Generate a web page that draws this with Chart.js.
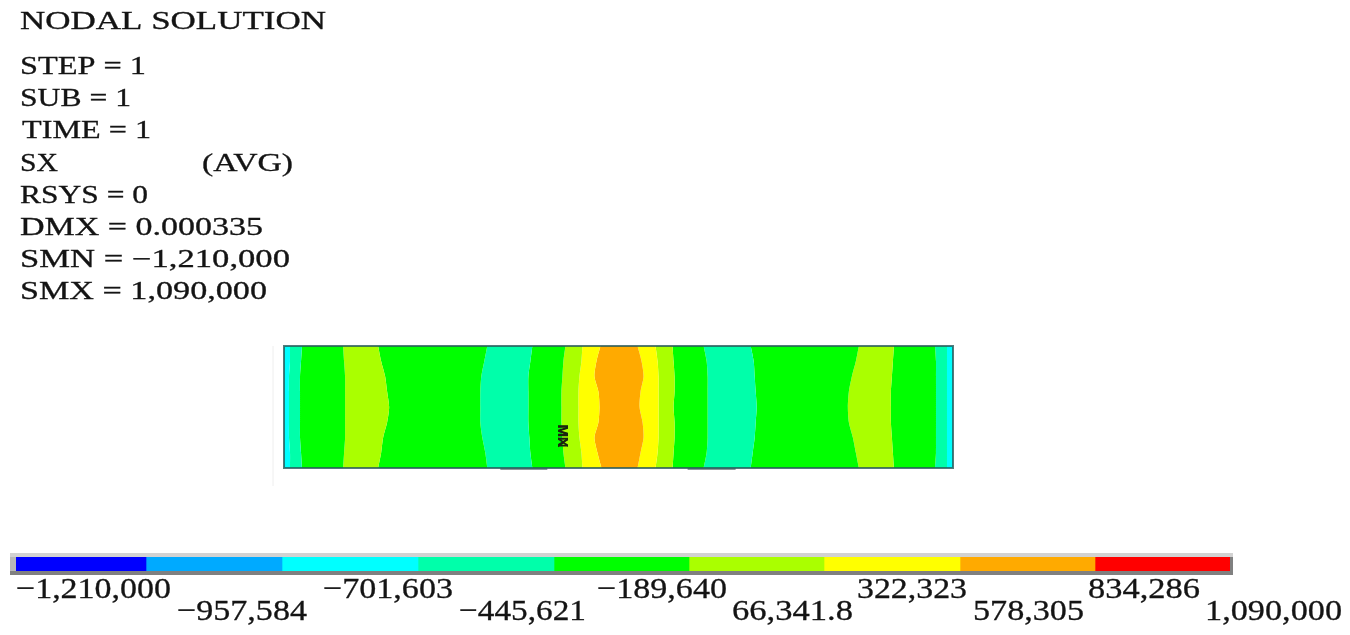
<!DOCTYPE html>
<html><head><meta charset="utf-8">
<style>html,body{margin:0;padding:0;background:#fff;width:1350px;height:635px;overflow:hidden}
canvas{position:absolute;left:0;filter:blur(0.55px)}</style>
<script src="https://cdn.jsdelivr.net/npm/chart.js@4/dist/chart.umd.min.js"></script>
</head><body>
<div style="position:absolute;left:0;top:0;width:1350px;height:540px"><canvas id="beam"></canvas></div>
<div style="position:absolute;left:0;top:540px;width:1350px;height:95px"><canvas id="bar"></canvas></div>
<script>
const headerLines = ["NODAL SOLUTION","STEP = 1","SUB = 1","TIME = 1","SX","RSYS = 0","DMX = 0.000335","SMN = \u22121,210,000","SMX = 1,090,000"];
const headerNote = "(AVG)";
const levelLabels = ["\u22121,210,000","\u2212957,584","\u2212701,603","\u2212445,621","\u2212189,640","66,341.8","322,323","578,305","834,286","1,090,000"];
const levelColors = ["#0000ff","#00aaff","#00ffff","#00ffaa","#00ff00","#aaff00","#ffff00","#ffaa00","#ff0000"];
// width of each colour cell of the key
const keyCells = [130,136,136,136,135,135,136,135,135];
const depth = [0,1,2,3,4,5,6,7,8];
const beamLength = 668;
// contour band edges along the beam, one value per depth row
const edges = [
 {band:2, at:[0,0,0,0,0,0,0,0,0]},
 {band:3, at:[6,6,5,5,5,5,5,6,6]},
 {band:4, at:[18,17,16,16,16,16,16,17,18]},
 {band:5, at:[59,60,61,61,61,61,61,60,59]},
 {band:4, at:[94,97,101,103,105,103,99,97,94]},
 {band:3, at:[203,200,197,196,196,196,198,201,203]},
 {band:4, at:[248,246,244,244,244,244,245,246,248]},
 {band:5, at:[281,279,278,277,277,277,278,279,281]},
 {band:6, at:[298,297,295,294,294,294,295,297,298]},
 {band:7, at:[316,312,310,314,315,314,310,313,317]},
 {band:6, at:[353,357,359,356,355,358,359,356,353]},
 {band:5, at:[371,373,374,374,374,374,374,373,371]},
 {band:4, at:[388,389,390,390,389,390,390,389,388]},
 {band:3, at:[419,422,423,423,423,423,423,422,419]},
 {band:4, at:[466,469,470,471,472,471,470,468,466]},
 {band:5, at:[574,571,567,564,563,564,568,571,574]},
 {band:4, at:[609,608,607,606,606,606,607,608,609]},
 {band:3, at:[650,651,651,651,651,651,651,651,650]},
 {band:2, at:[662,662,662,662,662,662,662,662,662]},
 {band:2, at:[668,668,668,668,668,668,668,668,668]}
];
const labelBaselines = [598,620,598,620,598,620,598,620,598,620];
const labelLefts = [16,177,323,459,597,732,857,973,1088,1205];
const labelWidths = [155,130,130,127,130,121,110,111,112,137];
const headerLefts = [20,20,20,22,20,20,20,20,20];
const headerWidths = [306,126,111,129,38,128,243,270,247];
const headerY = [29,74,106,138,171,203,235,267,299];

function fitText(ctx,text,x,y,w){
  const m = ctx.measureText(text).width;
  ctx.save();ctx.translate(x,y);ctx.scale(w/m,1);ctx.textAlign='left';
  ctx.fillText(text,0,0);ctx.strokeStyle=ctx.fillStyle;ctx.lineWidth=0.3;ctx.strokeText(text,0,0);ctx.restore();
}

const beamDecor = {id:'beamDecor',
  beforeDatasetsDraw(c){
    const {ctx,chartArea:a}=c;ctx.save();
    ctx.fillStyle='#8a9a9a';
    const sx=c.scales.x;
    ctx.fillRect(sx.getPixelForValue(216),a.bottom,47,2);
    ctx.fillRect(sx.getPixelForValue(403),a.bottom,48,2);
    ctx.strokeStyle='#eeeeee';ctx.lineWidth=1;
    ctx.beginPath();ctx.moveTo(a.left-11,a.top);ctx.lineTo(a.left-11,a.bottom+18);ctx.stroke();
    ctx.restore();
  },
  afterDraw(c){
    const {ctx,chartArea:a}=c;ctx.save();
    ctx.strokeStyle='rgba(40,90,90,0.8)';ctx.lineWidth=2;
    ctx.strokeRect(a.left,a.top,a.right-a.left,a.bottom-a.top);
    ctx.fillStyle='#141414';ctx.font='24.5px "Liberation Serif"';ctx.textBaseline='alphabetic';
    headerLines.forEach((t,i)=>fitText(ctx,t,headerLefts[i],headerY[i],headerWidths[i]));
    fitText(ctx,headerNote,202,171,91);
    const sx=c.scales.x;
    ctx.translate(sx.getPixelForValue(278),436);ctx.rotate(Math.PI/2);
    ctx.font='bold 15px "Liberation Sans"';ctx.textAlign='center';ctx.textBaseline='middle';ctx.fillStyle='#1a2410';
    ctx.fillText('MX',0,0);
    ctx.fillText('MN',0,0);
    ctx.restore();
  }};

new Chart(document.getElementById('beam'),{
  type:'line',
  data:{labels:depth,datasets:edges.map((e,i)=>({
    data:e.at,borderWidth:0,pointRadius:0,tension:0.25,
    backgroundColor:levelColors[e.band],
    fill:i<edges.length-1?'+1':false
  }))},
  options:{responsive:true,maintainAspectRatio:false,animation:false,indexAxis:'y',
    layout:{padding:{left:284,top:346,right:397,bottom:72}},
    plugins:{legend:{display:false},tooltip:{enabled:false}},
    scales:{x:{type:'linear',min:0,max:beamLength,display:false},
            y:{type:'category',offset:false,display:false}}},
  plugins:[beamDecor]
});

const barDecor = {id:'barDecor',
  beforeDatasetsDraw(c){
    const {ctx,chartArea:a}=c;ctx.save();
    ctx.fillStyle='#d2d2d2';ctx.fillRect(a.left-6,a.top-4,a.right-a.left+9,4);
    ctx.fillStyle='#b8b8b8';ctx.fillRect(a.left-6,a.top,6,a.bottom-a.top);
    ctx.fillStyle='#808080';ctx.fillRect(a.left-6,a.bottom,a.right-a.left+9,4);
    ctx.fillRect(a.right,a.top,3,a.bottom-a.top);
    ctx.restore();
  },
  afterDraw(c){
    const {ctx}=c;ctx.save();
    ctx.fillStyle='#141414';ctx.font='29.5px "Liberation Serif"';ctx.textBaseline='alphabetic';
    const top=c.canvas.getBoundingClientRect().top;
    levelLabels.forEach((t,i)=>fitText(ctx,t,labelLefts[i],labelBaselines[i]-top,labelWidths[i]));
    ctx.restore();
  }};

new Chart(document.getElementById('bar'),{
  type:'bar',
  data:{labels:['SX'],datasets:levelColors.map((col,i)=>({
    data:[keyCells[i]],backgroundColor:col,borderWidth:0,
    barPercentage:1,categoryPercentage:1}))},
  options:{responsive:true,maintainAspectRatio:false,animation:false,indexAxis:'y',
    layout:{padding:{left:16,top:17,right:120,bottom:64}},
    plugins:{legend:{display:false},tooltip:{enabled:false}},
    scales:{x:{type:'linear',stacked:true,min:0,max:keyCells.reduce((p,q)=>p+q,0),display:false},
            y:{stacked:true,display:false}}},
  plugins:[barDecor]
});
</script></body></html>
